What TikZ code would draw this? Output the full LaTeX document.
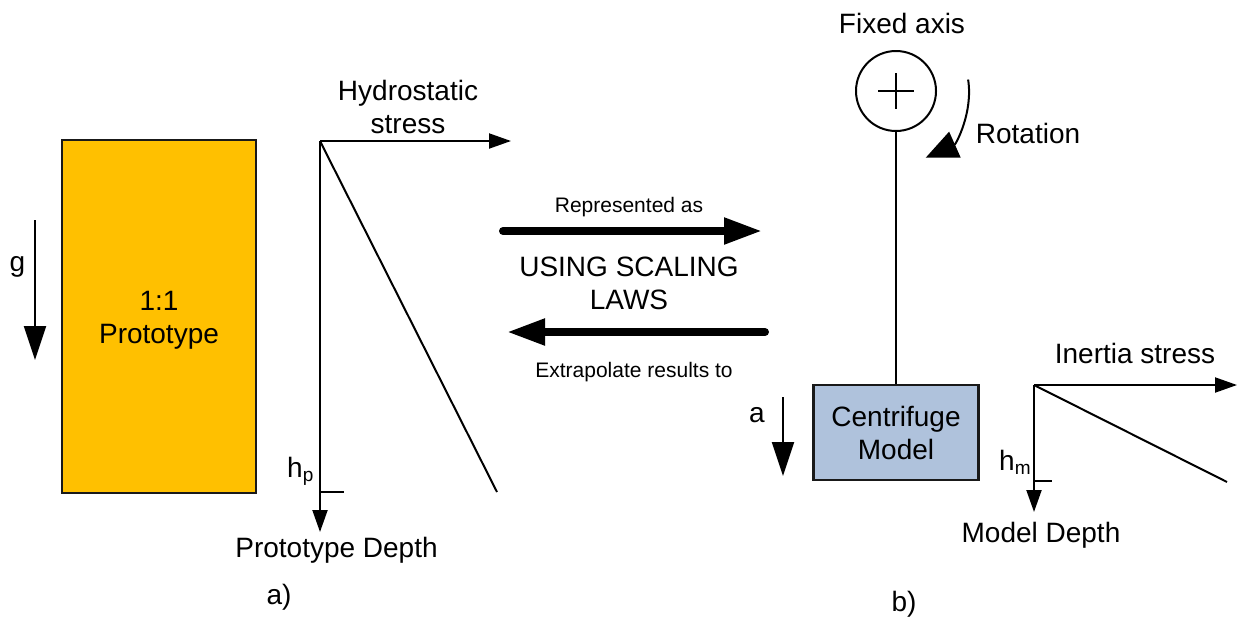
\documentclass[tikz,border=0pt]{standalone}
\usepackage{fontspec}
\setmainfont{Liberation Sans}
\usetikzlibrary{arrows.meta,calc}
\definecolor{protofill}{HTML}{FFC000}
\definecolor{cmfill}{HTML}{AFC2DC}
\begin{document}
\begin{tikzpicture}[x=1pt,y=-1pt,
  big/.style={font=\fontsize{28}{33}\selectfont, inner sep=0pt},
  small/.style={font=\fontsize{21}{25}\selectfont, inner sep=0pt},
  thinline/.style={line width=2pt, draw=black},
  bigtip/.style={-{Triangle[length=34pt,width=22pt]}},
  axtip/.style={-{Triangle[length=22pt,width=15pt]}},
  fat/.style={line width=8pt, line cap=round, -{Triangle[length=38pt,width=25pt]}},
  box/.style={draw=black!90, line width=2.5pt, inner sep=0pt, align=center, font=\fontsize{28}{33}\selectfont},
]
\useasboundingbox (0,0) rectangle (1238,622);

% left: prototype
\node[box, fill=protofill, minimum width=194pt, minimum height=353pt] (proto) at (159,316.5) {};
\node[big, align=center] (protolab) at (159,320) {1:1\\Prototype};
\coordinate (gS) at (35,220);
\coordinate (gE) at (35,360);
\draw[thinline, bigtip] (gS) -- (gE);
\node[big, anchor=base] (glab) at (17.5,271) {g};

% hydrostatic stress axes
\coordinate (hO) at (320,141);
\coordinate (hX) at (511,141);
\coordinate (hY) at (320,532);
\coordinate (hT) at (344,492);
\coordinate (hD) at (497,492);
\draw[thinline, axtip] (hO) -- (hX);
\draw[thinline, axtip] (hO) -- (hY);
\draw[thinline] (hO) -- (hD);
\draw[thinline] (hO |- hT) -- (hT);
\node[big, align=center, anchor=center] (hlab) at (408,107) {Hydrostatic\\stress};
\node[big, anchor=base west] (hp) at (287,477) {h\raisebox{-4pt}{\fontsize{19}{19}\selectfont p}};
\node[big, anchor=base] (pdepth) at (336.5,557) {Prototype Depth};
\node[big, anchor=base] (alab) at (279,604) {a)};

% middle arrows
\coordinate (r1) at (503,231);
\coordinate (r2) at (762,231);
\coordinate (e1) at (765,332);
\coordinate (e2) at (507,332);
\draw[fat] (r1) -- (r2);
\draw[fat] (e1) -- (e2);
\node[small, anchor=base] (rep) at (629,212) {Represented as};
\node[big, align=center, anchor=center] (usl) at (629,283) {USING SCALING\\LAWS};
\node[small, anchor=base] (ext) at (634,377) {Extrapolate results to};

% right: centrifuge
\node[circle, draw, line width=2pt, minimum size=80pt, inner sep=0pt] (axis) at (896,91) {};
\draw[thinline] ([xshift=-18pt]axis.center) -- ([xshift=18pt]axis.center);
\draw[thinline] ([yshift=18pt]axis.center) -- ([yshift=-18pt]axis.center);
\node[big, anchor=base] (fix) at (902,33) {Fixed axis};
\coordinate (rotS) at ($(axis.center)+(-9:73)$);
\draw[thinline, -{Triangle[length=32pt,width=28pt]}] (rotS) arc[start angle=-9, end angle=66, radius=73];
\node[big, anchor=base] (rot) at (1028,143) {Rotation};
\node[box, fill=cmfill, minimum width=165pt, minimum height=95pt] (cm) at (896,432.5) {Centrifuge\\Model};
\draw[thinline] (axis.south) -- (cm.north);
\coordinate (aS) at (783,397);
\coordinate (aE) at (783,476);
\draw[thinline, bigtip] (aS) -- (aE);
\node[big, anchor=base] (alab2) at (757,422) {a};

% inertia stress axes
\coordinate (iO) at (1034,385);
\coordinate (iX) at (1237,385);
\coordinate (iY) at (1034,512);
\coordinate (iT) at (1052,481);
\coordinate (iD) at (1227,482);
\draw[thinline, axtip] (iO) -- (iX);
\draw[thinline, axtip] (iO) -- (iY);
\draw[thinline] (iO) -- (iD);
\draw[thinline] (iO |- iT) -- (iT);
\node[big, anchor=base] (ilab) at (1135,363) {Inertia stress};
\node[big, anchor=base west] (hm) at (999,470) {h\raisebox{-4pt}{\fontsize{19}{19}\selectfont m}};
\node[big, anchor=base] (mdepth) at (1041,542) {Model Depth};
\node[big, anchor=base] (blab) at (904,611) {b)};
\end{tikzpicture}
\end{document}
